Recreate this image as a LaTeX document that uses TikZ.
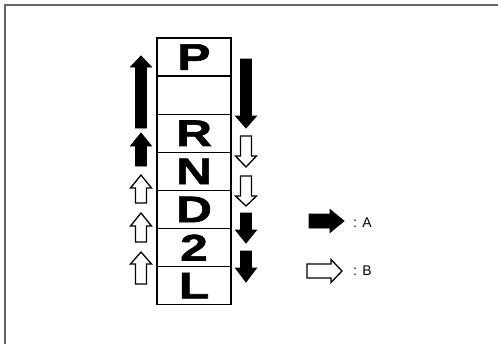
\documentclass[tikz,border=0pt]{standalone}
\usepackage{fontspec}
\setmainfont{Liberation Sans}
\newfontfamily\gearfont[FakeStretch=1.35,FakeBold=1.5]{Liberation Sans Bold}
\newcommand\vshaftarrow[5]{%
  \draw[#1] (#2,#3) -- (#2+10.5,#4) -- (#2+5.5,#4) -- (#2+5.5,#5) -- (#2-5.5,#5) -- (#2-5.5,#4) -- (#2-10.5,#4) -- cycle;}
\newcommand\hshaftarrow[5]{%
  \draw[#1] (#3,#2) -- (#4,#2+11.5) -- (#4,#2+7) -- (#5,#2+7) -- (#5,#2-7) -- (#4,#2-7) -- (#4,#2-11.5) -- cycle;}
\tikzset{
  solidarr/.style={fill=black,draw=black,line width=0.8pt,line join=miter},
  hollowarr/.style={fill=white,draw=black,line width=1.3pt,line join=miter},
  gearcell/.style={draw=black,line width=1.4pt,minimum width=74pt,minimum height=38.1pt,inner sep=0pt,font=\gearfont\fontsize{37}{37}\selectfont},
  legendtext/.style={font=\fontsize{14}{14}\selectfont,anchor=west,inner sep=0pt}
}
\begin{document}
\begin{tikzpicture}[x=1pt,y=-1pt]
\useasboundingbox (0,0) rectangle (498,343);
\draw[line width=1.5pt,draw=black!60] (5,350) -- (5,5) -- (505,5);
% gear column
\node[gearcell] (cP) at (194,57.05) {P};
\node[gearcell] (cE) at (194,95.15) {};
\node[gearcell] (cR) at (194,133.25) {R};
\node[gearcell] (cN) at (194,171.35) {N};
\node[gearcell] (cD) at (194,209.45) {D};
\node[gearcell] (c2) at (194,247.55) {2};
\node[gearcell] (cL) at (194,285.65) {L};
% left (up) arrows
\vshaftarrow{solidarr}{141}{56}{67}{128}
\vshaftarrow{solidarr}{141}{133}{146}{166}
\vshaftarrow{hollowarr}{141}{175}{188}{203}
\vshaftarrow{hollowarr}{141}{213}{226}{242}
\vshaftarrow{hollowarr}{141}{252}{264}{284}
% right (down) arrows
\vshaftarrow{solidarr}{246}{128}{116}{59}
\vshaftarrow{hollowarr}{246}{167}{156}{136}
\vshaftarrow{hollowarr}{246}{206}{196}{176}
\vshaftarrow{solidarr}{246}{243}{230}{213}
\vshaftarrow{solidarr}{246}{282}{268}{251}
% legend
\hshaftarrow{solidarr}{221}{344}{330}{309}
\hshaftarrow{hollowarr}{271}{342}{331}{307}
\node[legendtext] (la) at (353,223) {: A};
\node[legendtext] (lb) at (353,271) {: B};
\end{tikzpicture}
\end{document}
